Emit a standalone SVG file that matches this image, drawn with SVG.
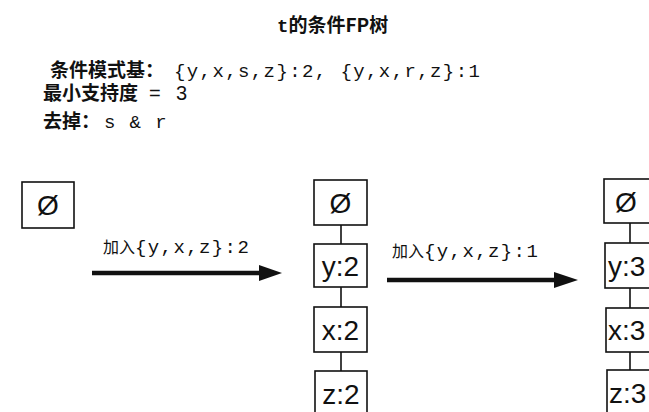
<svg xmlns="http://www.w3.org/2000/svg" width="649" height="412" viewBox="0 0 649 412">
<style>
.bg{fill:#ffffff}
.box{fill:#ffffff;stroke:#111111;stroke-width:1.6}
.lbl{font-family:"Liberation Sans",Arial,sans-serif;font-size:28px;fill:#111111;text-anchor:middle}
.lbls{font-family:"Liberation Sans",Arial,sans-serif;font-size:28px;fill:#111111}
.edge{stroke:#111111;stroke-width:1.6;fill:none}
.arr{stroke:#111111;stroke-width:4.5;fill:none}
.head{fill:#111111}
.cjkb{font-family:"Noto Sans CJK SC","Liberation Sans",sans-serif;font-weight:bold;font-size:19px;fill:#111111}
.cjk{font-family:"Noto Sans CJK SC","Liberation Sans",sans-serif;font-size:16px;fill:#111111}
.mono{font-family:"Liberation Mono","Courier New",monospace;font-size:19px;letter-spacing:1.4px;fill:#111111}
.sans{font-family:"Liberation Sans",Arial,sans-serif;font-size:20px;fill:#111111}
</style>
<rect class="bg" x="0" y="0" width="649" height="412"/>

<g id="header">
  <text x="277" y="32" class="cjkb"><tspan font-family="Liberation Mono, monospace">t</tspan>的条件FP树</text>
  <text y="77"><tspan x="50" class="cjkb">条件模式基：</tspan><tspan x="174" class="mono">{y,x,s,z}:2, {y,x,r,z}:1</tspan></text>
  <text y="100"><tspan x="43" class="cjkb">最小支持度</tspan><tspan x="149" class="sans">=</tspan><tspan x="176" class="sans">3</tspan></text>
  <text y="128"><tspan x="43" class="cjkb">去掉：</tspan><tspan x="104" class="mono">s &amp; r</tspan></text>
</g>

<g id="connectors">
  <line class="edge" x1="341" y1="225" x2="341" y2="244"/>
  <line class="edge" x1="341" y1="287" x2="341" y2="307"/>
  <line class="edge" x1="341" y1="352" x2="341" y2="371"/>
  <line class="edge" x1="630" y1="223" x2="630" y2="243"/>
  <line class="edge" x1="630" y1="288" x2="630" y2="308"/>
  <line class="edge" x1="630" y1="352" x2="630" y2="370"/>
  <g id="arrow1">
    <line class="arr" x1="92" y1="273" x2="262" y2="273"/>
    <polygon class="head" points="259,265 282,273 259,281"/>
    <text y="253"><tspan x="103" class="cjk">加入</tspan><tspan x="135" class="mono" letter-spacing="1.7px">{y,x,z}:2</tspan></text>
  </g>
  <g id="arrow2">
    <line class="arr" x1="387" y1="280" x2="557" y2="280"/>
    <polygon class="head" points="554,272 578,280 554,288"/>
    <text y="257"><tspan x="392" class="cjk">加入</tspan><tspan x="424" class="mono" letter-spacing="1.7px">{y,x,z}:1</tspan></text>
  </g>
</g>

<g id="tree0-root">
  <rect class="box" x="22" y="182" width="52" height="46"/>
  <text class="lbl" x="48" y="215">Ø</text>
</g>

<g id="tree1-root">
  <rect class="box" x="314" y="180" width="53" height="45"/>
  <text class="lbl" x="340.5" y="213">Ø</text>
</g>
<g id="tree1-y">
  <rect class="box" x="314" y="244" width="53" height="43"/>
  <text class="lbl" x="340.5" y="276">y:2</text>
</g>
<g id="tree1-x">
  <rect class="box" x="314" y="307" width="53" height="45"/>
  <text class="lbl" x="340.5" y="340">x:2</text>
</g>
<g id="tree1-z">
  <rect class="box" x="315" y="371" width="52" height="46"/>
  <text class="lbl" x="341" y="404">z:2</text>
</g>

<g id="tree2-root">
  <rect class="box" x="604" y="179" width="53" height="44"/>
  <text class="lbl" x="626" y="212">Ø</text>
</g>
<g id="tree2-y">
  <rect class="box" x="605" y="243" width="53" height="45"/>
  <text class="lbls" x="608" y="276">y:3</text>
</g>
<g id="tree2-x">
  <rect class="box" x="606" y="308" width="53" height="44"/>
  <text class="lbls" x="608" y="340">x:3</text>
</g>
<g id="tree2-z">
  <rect class="box" x="607" y="370" width="53" height="46"/>
  <text class="lbls" x="609" y="403">z:3</text>
</g>
</svg>
